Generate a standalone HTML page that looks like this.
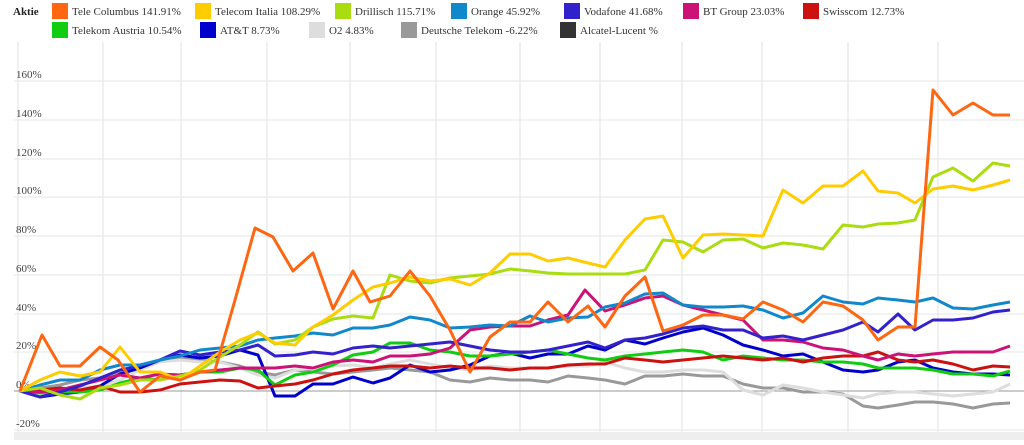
<!DOCTYPE html>
<html><head><meta charset="utf-8"><style>
body{margin:0;background:#fff;width:1024px;height:440px;overflow:hidden;font-family:"Liberation Serif",serif}
</style></head><body>
<svg width="1024" height="440" xmlns="http://www.w3.org/2000/svg" font-family="Liberation Serif, serif">
<rect x="0" y="0" width="1024" height="440" fill="#fff"/>
<g stroke="#e2e2e2" stroke-width="1">
<line x1="18" y1="42" x2="18" y2="432"/><line x1="103" y1="42" x2="103" y2="432"/><line x1="181" y1="42" x2="181" y2="432"/><line x1="267" y1="42" x2="267" y2="432"/><line x1="350" y1="42" x2="350" y2="432"/><line x1="436" y1="42" x2="436" y2="432"/><line x1="520" y1="42" x2="520" y2="432"/><line x1="600" y1="42" x2="600" y2="432"/><line x1="682" y1="42" x2="682" y2="432"/><line x1="762" y1="42" x2="762" y2="432"/><line x1="848" y1="42" x2="848" y2="432"/><line x1="938" y1="42" x2="938" y2="432"/>
</g>
<g stroke="#e6e6e6"><line x1="14" y1="81" x2="1024" y2="81"/><line x1="14" y1="120" x2="1024" y2="120"/><line x1="14" y1="159" x2="1024" y2="159"/><line x1="14" y1="197" x2="1024" y2="197"/><line x1="14" y1="236" x2="1024" y2="236"/><line x1="14" y1="275" x2="1024" y2="275"/><line x1="14" y1="314" x2="1024" y2="314"/><line x1="14" y1="352" x2="1024" y2="352"/><line x1="14" y1="430" x2="1024" y2="430"/></g>
<line x1="14" y1="391" x2="1024" y2="391" stroke="#999"/>
<rect x="14" y="432" width="1010" height="8" fill="#eee"/>
<g font-size="11" fill="#444">
<text x="16" y="78">160%</text><text x="16" y="117">140%</text><text x="16" y="156">120%</text><text x="16" y="194">100%</text><text x="16" y="233">80%</text><text x="16" y="272">60%</text><text x="16" y="311">40%</text><text x="16" y="349">20%</text><text x="16" y="388">0%</text><text x="16" y="427">-20%</text>
</g>
<g fill="none" stroke-width="3" stroke-linejoin="round">
<polyline stroke="#999999" points="20,391 40,388 60,385 80,380 100,378 120,372 140,366 160,360 180,358 200,360 220,362 240,366 258,372 275,375 295,370 313,372 333,374 353,372 373,370 390,368 410,370 430,372 450,380 470,382 490,378 510,380 530,380 548,382 568,376 588,378 605,380 625,384 645,376 663,376 683,374 703,376 723,376 743,384 763,388 783,388 803,392 823,392 843,394 863,406 878,408 898,405 915,402 933,402 953,404 973,408 993,404 1010,403"/>
<polyline stroke="#dddddd" points="20,391 40,392 60,390 80,388 100,386 120,380 140,370 160,362 180,360 200,362 220,362 240,368 258,375 275,378 295,370 313,368 333,366 353,365 373,368 390,364 410,360 430,364 450,368 470,370 490,366 510,368 530,368 548,368 568,366 588,366 605,362 625,368 645,372 663,372 683,370 703,370 723,372 743,390 763,395 783,385 803,388 823,392 843,395 863,398 878,394 898,392 915,392 933,394 953,396 973,394 993,392 1010,384"/>
<polyline stroke="#0000cc" points="20,391 40,397 60,394 80,392 100,386 120,374 140,368 160,360 180,355 200,358 220,356 240,350 258,355 275,396 295,396 313,384 333,384 353,377 373,383 390,378 410,365 430,372 450,370 470,365 490,356 510,353 530,358 548,354 568,354 588,346 605,350 625,340 645,344 663,338 683,332 703,328 723,335 743,345 763,350 783,356 803,354 823,362 843,370 863,372 878,370 898,362 915,360 933,368 953,372 973,374 993,374 1010,375"/>
<polyline stroke="#11cc11" points="20,391 40,393 60,392 80,392 100,390 120,383 140,378 160,380 180,375 200,372 220,372 240,368 258,370 275,385 295,375 313,372 333,365 353,355 373,352 390,343 410,343 430,350 450,352 470,356 490,356 510,354 530,352 548,350 568,354 588,358 605,360 625,356 645,354 663,352 683,350 703,352 723,360 743,356 763,358 783,360 803,360 823,362 843,362 863,364 878,368 898,368 915,368 933,370 953,374 973,374 993,376 1010,371"/>
<polyline stroke="#cc1111" points="20,391 40,390 60,388 80,390 100,386 120,392 140,392 160,390 180,384 200,382 220,380 240,381 258,388 275,386 295,384 313,380 333,374 353,370 373,368 390,366 410,366 430,368 450,366 470,368 490,368 510,370 530,368 548,368 568,365 588,364 605,364 625,358 645,360 663,362 683,360 703,358 723,356 743,358 763,360 783,358 803,362 823,358 843,356 863,356 878,352 898,360 915,362 933,360 953,364 973,370 993,366 1010,367"/>
<polyline stroke="#cc1177" points="20,391 40,392 60,390 80,385 100,380 120,375 140,378 160,374 180,375 200,372 220,370 240,368 258,368 275,368 295,366 313,368 333,362 353,360 373,362 390,356 410,356 430,354 450,348 470,330 490,327 510,326 530,326 548,320 568,315 585,290 605,311 625,305 645,298 663,296 683,305 703,310 723,315 743,320 763,340 783,340 803,342 823,348 843,350 863,356 878,360 898,354 915,356 933,354 953,352 973,352 993,352 1010,346"/>
<polyline stroke="#3322cc" points="20,391 40,397 60,392 80,386 100,378 120,370 140,366 160,360 180,351 200,355 220,352 240,350 258,345 275,356 295,355 313,352 333,354 353,348 373,346 390,348 410,346 430,344 450,342 470,346 490,350 510,352 530,352 548,350 568,346 588,342 605,348 625,340 645,338 663,334 683,328 703,326 723,330 743,330 763,338 783,336 803,340 823,335 843,330 863,322 878,332 898,314 915,330 933,320 953,320 973,318 993,312 1010,310"/>
<polyline stroke="#1188cc" points="20,391 40,385 60,380 80,380 100,370 120,365 140,365 160,360 180,356 200,350 220,348 240,346 258,340 275,338 295,336 313,333 333,335 353,328 373,328 390,325 410,317 430,320 450,328 470,327 490,325 510,326 530,316 548,322 568,318 588,317 605,307 625,303 645,294 663,293 683,305 703,307 723,307 743,306 763,310 783,318 803,313 823,296 843,302 863,304 878,298 898,300 915,302 933,298 953,308 973,309 993,305 1010,302"/>
<polyline stroke="#aadd11" points="20,391 40,388 60,395 80,399 100,388 120,385 140,380 160,380 180,376 200,370 220,357 240,345 258,332 275,344 295,340 313,327 333,319 353,316 373,318 390,275 410,281 430,283 450,278 470,276 490,274 510,269 530,271 548,273 568,274 588,274 605,274 625,274 645,270 663,240 683,242 703,252 723,240 743,239 763,248 783,243 803,245 823,249 843,225 863,227 878,224 898,223 915,220 933,177 953,168 973,181 993,163 1010,166"/>
<polyline stroke="#ffcc00" points="20,391 40,380 60,372 80,376 100,372 120,347 140,372 160,372 180,380 200,366 220,352 240,340 258,333 275,343 295,345 313,327 333,315 353,300 373,287 390,283 410,277 430,281 450,279 470,285 490,273 510,254 530,254 548,261 568,258 588,263 605,267 625,240 645,219 663,216 683,258 703,235 723,234 743,235 763,236 783,190 803,203 823,186 843,186 863,171 878,191 898,193 915,203 933,189 953,186 973,190 993,185 1010,180"/>
<polyline stroke="#ff6611" points="20,391 42,335 60,366 80,366 100,347 118,360 140,392 160,376 180,380 200,372 215,370 235,300 255,228 273,237 293,271 313,253 333,309 353,271 370,302 390,296 410,271 430,296 450,330 470,372 490,337 510,322 530,322 548,302 568,322 588,306 605,327 625,296 645,277 663,331 683,325 703,315 723,315 743,319 763,302 783,310 803,322 823,302 843,306 863,320 878,340 898,327 915,327 933,90 953,115 973,103 993,115 1010,115"/>
</g>
<g font-size="11" fill="#333">
<text x="13" y="15" font-weight="bold" fill="#222">Aktie</text>
<rect x="52" y="3" width="16" height="16" fill="#ff6611"/><text x="72" y="15">Tele Columbus  141.91%</text>
<rect x="195" y="3" width="16" height="16" fill="#ffcc00"/><text x="215" y="15">Telecom Italia  108.29%</text>
<rect x="335" y="3" width="16" height="16" fill="#aadd11"/><text x="355" y="15">Drillisch  115.71%</text>
<rect x="451" y="3" width="16" height="16" fill="#1188cc"/><text x="471" y="15">Orange  45.92%</text>
<rect x="564" y="3" width="16" height="16" fill="#3322cc"/><text x="584" y="15">Vodafone  41.68%</text>
<rect x="683" y="3" width="16" height="16" fill="#cc1177"/><text x="703" y="15">BT Group  23.03%</text>
<rect x="803" y="3" width="16" height="16" fill="#cc1111"/><text x="823" y="15">Swisscom  12.73%</text>
<rect x="52" y="22" width="16" height="16" fill="#11cc11"/><text x="72" y="34">Telekom Austria  10.54%</text>
<rect x="200" y="22" width="16" height="16" fill="#0000cc"/><text x="220" y="34">AT&amp;T  8.73%</text>
<rect x="309" y="22" width="16" height="16" fill="#dddddd"/><text x="329" y="34">O2  4.83%</text>
<rect x="401" y="22" width="16" height="16" fill="#999999"/><text x="421" y="34">Deutsche Telekom  -6.22%</text>
<rect x="560" y="22" width="16" height="16" fill="#333333"/><text x="580" y="34">Alcatel-Lucent  %</text>
</g>
</svg>
</body></html>
